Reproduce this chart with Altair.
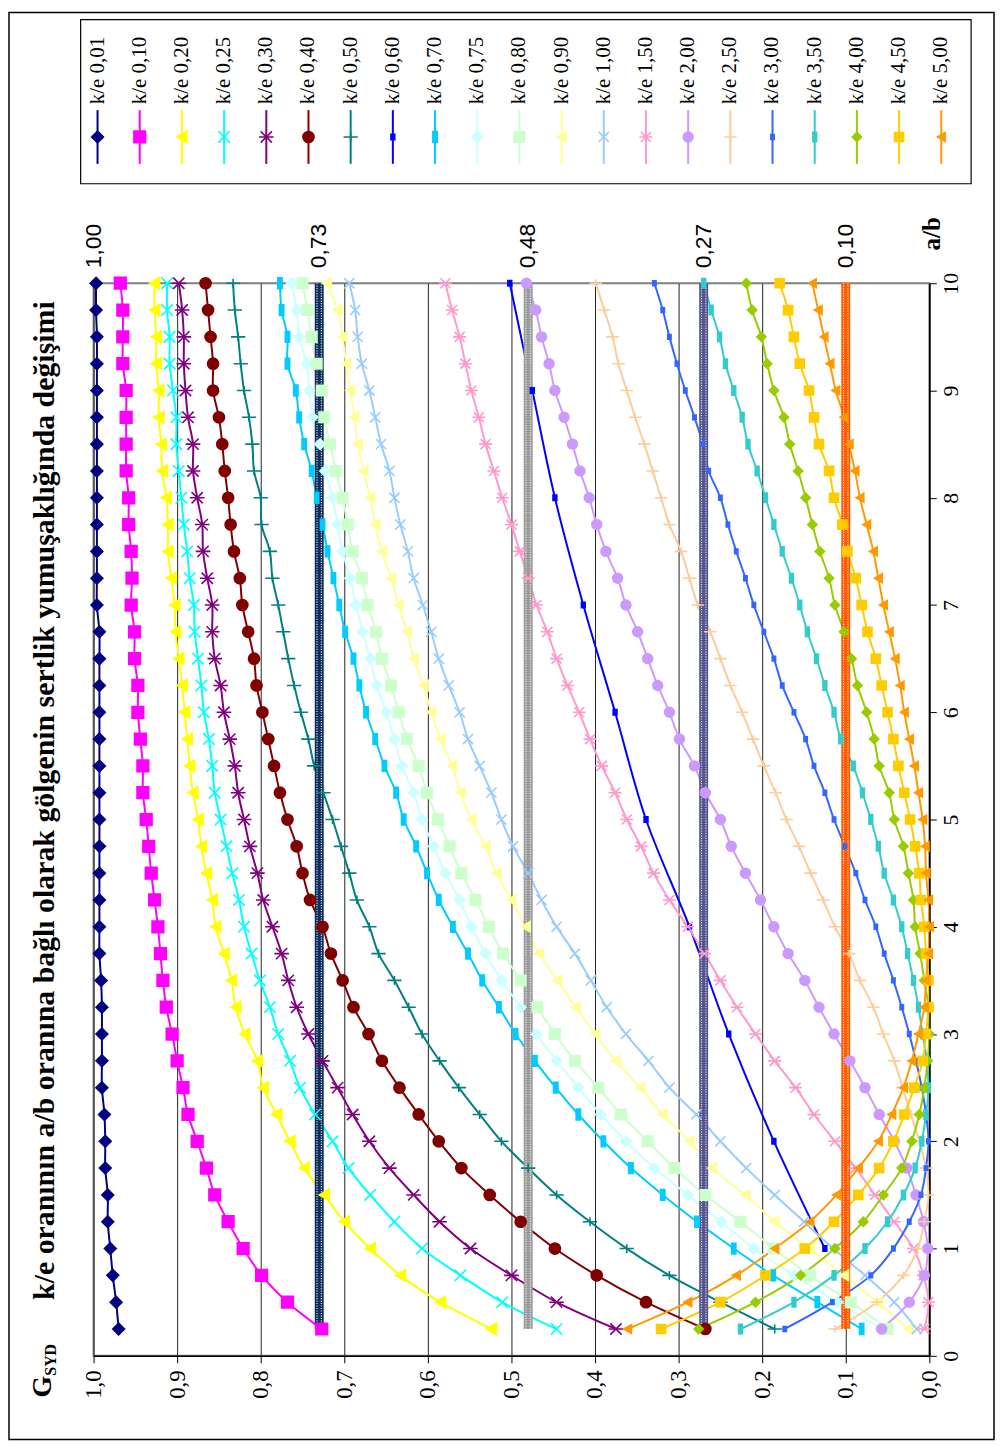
import altair as alt
import pandas as pd

# ---------------- data ----------------
AB = [0.25, 0.5, 0.75, 1.0, 1.25, 1.5, 1.75, 2.0, 2.25, 2.5,
      2.75, 3.0, 3.25, 3.5, 3.75, 4.0, 4.25, 4.5, 4.75, 5.0,
      5.25, 5.5, 5.75, 6.0, 6.25, 6.5, 6.75, 7.0, 7.25, 7.5,
      7.75, 8.0, 8.25, 8.5, 8.75, 9.0, 9.25, 9.5, 9.75, 10.0]
AB_INT = [1, 2, 3, 4, 5, 6, 7, 8, 9, 10]

S001 = [0.970, 0.973, 0.977, 0.980, 0.983, 0.983, 0.986, 0.986, 0.987, 0.990,
        0.990, 0.990, 0.990, 0.991, 0.993, 0.993, 0.993, 0.993, 0.993, 0.993,
        0.993, 0.993, 0.993, 0.993, 0.993, 0.993, 0.993, 0.996, 0.996, 0.996,
        0.996, 0.996, 0.996, 0.996, 0.996, 0.996, 0.996, 0.996, 0.997, 0.997]
S010 = [0.727, 0.768, 0.799, 0.821, 0.839, 0.855, 0.865, 0.876, 0.887, 0.893,
        0.900, 0.906, 0.913, 0.917, 0.920, 0.923, 0.927, 0.931, 0.934, 0.937,
        0.941, 0.941, 0.944, 0.947, 0.947, 0.951, 0.951, 0.955, 0.954, 0.955,
        0.958, 0.958, 0.961, 0.961, 0.961, 0.961, 0.965, 0.965, 0.965, 0.968]
S020 = [0.524, 0.585, 0.633, 0.669, 0.700, 0.724, 0.748, 0.765, 0.781, 0.797,
        0.804, 0.819, 0.830, 0.835, 0.844, 0.854, 0.858, 0.865, 0.871, 0.875,
        0.881, 0.885, 0.888, 0.891, 0.894, 0.898, 0.902, 0.903, 0.907, 0.911,
        0.911, 0.913, 0.918, 0.919, 0.922, 0.922, 0.925, 0.925, 0.927, 0.927]
S025 = [0.446, 0.511, 0.561, 0.607, 0.640, 0.669, 0.695, 0.714, 0.735, 0.753,
        0.765, 0.779, 0.789, 0.801, 0.811, 0.820, 0.826, 0.834, 0.841, 0.848,
        0.855, 0.858, 0.862, 0.868, 0.871, 0.875, 0.879, 0.880, 0.885, 0.888,
        0.892, 0.895, 0.898, 0.901, 0.901, 0.905, 0.909, 0.909, 0.912, 0.912]
S030 = [0.375, 0.446, 0.500, 0.549, 0.586, 0.617, 0.646, 0.670, 0.690, 0.708,
        0.726, 0.743, 0.757, 0.767, 0.775, 0.786, 0.797, 0.804, 0.813, 0.820,
        0.827, 0.831, 0.837, 0.844, 0.848, 0.855, 0.858, 0.858, 0.864, 0.869,
        0.870, 0.876, 0.881, 0.881, 0.887, 0.890, 0.892, 0.892, 0.894, 0.898]
S040 = [0.268, 0.339, 0.398, 0.448, 0.489, 0.526, 0.560, 0.587, 0.611, 0.634,
        0.655, 0.671, 0.689, 0.702, 0.716, 0.726, 0.741, 0.750, 0.757, 0.768,
        0.777, 0.784, 0.791, 0.798, 0.805, 0.808, 0.815, 0.822, 0.825, 0.832,
        0.836, 0.839, 0.843, 0.846, 0.850, 0.857, 0.857, 0.860, 0.863, 0.866]
S050 = [0.185, 0.250, 0.311, 0.362, 0.406, 0.446, 0.480, 0.512, 0.538, 0.563,
        0.586, 0.607, 0.623, 0.640, 0.659, 0.670, 0.685, 0.694, 0.704, 0.714,
        0.725, 0.736, 0.743, 0.752, 0.760, 0.767, 0.773, 0.779, 0.786, 0.789,
        0.799, 0.800, 0.808, 0.810, 0.814, 0.820, 0.824, 0.827, 0.831, 0.833]
S060 = [0.125, 0.186, 0.240, 0.287, 0.339, 0.376, 0.414, 0.448, 0.475, 0.502]
S070 = [0.081, 0.134, 0.187, 0.234, 0.278, 0.319, 0.357, 0.390, 0.420, 0.447,
        0.472, 0.495, 0.515, 0.535, 0.552, 0.570, 0.587, 0.601, 0.614, 0.629,
        0.638, 0.652, 0.663, 0.674, 0.682, 0.689, 0.699, 0.706, 0.713, 0.720,
        0.726, 0.733, 0.739, 0.748, 0.754, 0.758, 0.768, 0.768, 0.775, 0.777]
S075 = [0.057, 0.110, 0.162, 0.210, 0.249, 0.289, 0.329, 0.363, 0.393, 0.420,
        0.446, 0.470, 0.489, 0.512, 0.531, 0.548, 0.562, 0.579, 0.593, 0.607,
        0.617, 0.631, 0.640, 0.650, 0.661, 0.669, 0.678, 0.686, 0.693, 0.702,
        0.708, 0.714, 0.723, 0.729, 0.738, 0.742, 0.745, 0.754, 0.757, 0.763]
S080 = [0.050, 0.094, 0.143, 0.186, 0.226, 0.268, 0.305, 0.337, 0.369, 0.396,
        0.424, 0.448, 0.469, 0.489, 0.510, 0.527, 0.543, 0.560, 0.574, 0.588,
        0.601, 0.611, 0.625, 0.635, 0.644, 0.655, 0.662, 0.672, 0.679, 0.690,
        0.696, 0.702, 0.710, 0.717, 0.724, 0.727, 0.733, 0.739, 0.744, 0.750]
S090 = [0.025, 0.062, 0.102, 0.143, 0.185, 0.220, 0.260, 0.287, 0.319, 0.346,
        0.375, 0.400, 0.423, 0.445, 0.467, 0.483, 0.500, 0.518, 0.531, 0.548,
        0.561, 0.571, 0.585, 0.596, 0.605, 0.617, 0.625, 0.635, 0.644, 0.655,
        0.663, 0.669, 0.677, 0.684, 0.688, 0.693, 0.698, 0.702, 0.708, 0.721]
S100 = [0.015, 0.042, 0.077, 0.115, 0.150, 0.185, 0.219, 0.250, 0.279, 0.311,
        0.336, 0.363, 0.386, 0.405, 0.424, 0.446, 0.464, 0.480, 0.498, 0.512,
        0.524, 0.538, 0.552, 0.562, 0.575, 0.587, 0.596, 0.606, 0.617, 0.624,
        0.633, 0.640, 0.646, 0.656, 0.663, 0.670, 0.679, 0.684, 0.687, 0.694]
S150 = [0.006, 0.001, 0.007, 0.019, 0.042, 0.065, 0.088, 0.113, 0.138, 0.160,
        0.185, 0.208, 0.230, 0.250, 0.269, 0.289, 0.311, 0.330, 0.345, 0.362,
        0.376, 0.392, 0.406, 0.419, 0.433, 0.446, 0.457, 0.470, 0.480, 0.490,
        0.500, 0.511, 0.521, 0.531, 0.539, 0.548, 0.555, 0.562, 0.571, 0.579]
S200 = [0.057, 0.024, 0.006, 0.002, 0.007, 0.016, 0.027, 0.042, 0.060, 0.077,
        0.095, 0.114, 0.132, 0.149, 0.169, 0.186, 0.202, 0.220, 0.237, 0.250,
        0.268, 0.281, 0.299, 0.311, 0.325, 0.337, 0.349, 0.363, 0.373, 0.387,
        0.398, 0.407, 0.418, 0.427, 0.437, 0.448, 0.455, 0.464, 0.471, 0.482]
S250 = [0.113, 0.063, 0.031, 0.014, 0.006, 0.001, 0.004, 0.012, 0.022, 0.032,
        0.042, 0.055, 0.067, 0.083, 0.096, 0.113, 0.127, 0.142, 0.156, 0.171,
        0.184, 0.198, 0.211, 0.224, 0.238, 0.250, 0.262, 0.277, 0.287, 0.297,
        0.311, 0.321, 0.331, 0.341, 0.352, 0.362, 0.372, 0.379, 0.389, 0.399]
S300 = [0.173, 0.116, 0.070, 0.043, 0.024, 0.010, 0.004, 0.001, 0.004, 0.009,
        0.016, 0.024, 0.033, 0.043, 0.054, 0.064, 0.077, 0.088, 0.101, 0.114,
        0.125, 0.138, 0.148, 0.162, 0.176, 0.186, 0.198, 0.210, 0.220, 0.231,
        0.241, 0.250, 0.264, 0.271, 0.281, 0.292, 0.302, 0.311, 0.319, 0.329]
S350 = [0.226, 0.162, 0.114, 0.077, 0.050, 0.031, 0.017, 0.009, 0.004, 0.001,
        0.003, 0.008, 0.013, 0.019, 0.026, 0.033, 0.043, 0.054, 0.061, 0.070,
        0.080, 0.091, 0.106, 0.114, 0.125, 0.135, 0.146, 0.155, 0.165, 0.176,
        0.186, 0.196, 0.206, 0.217, 0.224, 0.234, 0.244, 0.251, 0.261, 0.270]
S400 = [0.276, 0.208, 0.154, 0.113, 0.079, 0.055, 0.033, 0.021, 0.012, 0.006,
        0.002, 0.000, 0.001, 0.006, 0.011, 0.017, 0.019, 0.025, 0.031, 0.042,
        0.048, 0.060, 0.066, 0.075, 0.086, 0.093, 0.102, 0.113, 0.120, 0.131,
        0.140, 0.148, 0.157, 0.167, 0.174, 0.186, 0.194, 0.201, 0.212, 0.219]
S450 = [0.321, 0.250, 0.196, 0.149, 0.114, 0.085, 0.060, 0.043, 0.030, 0.018,
        0.008, 0.004, 0.001, 0.001, 0.004, 0.006, 0.010, 0.012, 0.017, 0.023,
        0.030, 0.037, 0.043, 0.050, 0.057, 0.064, 0.074, 0.081, 0.088, 0.098,
        0.104, 0.114, 0.120, 0.132, 0.138, 0.144, 0.155, 0.162, 0.169, 0.179]
S500 = [0.361, 0.289, 0.231, 0.185, 0.143, 0.111, 0.085, 0.061, 0.045, 0.031,
        0.021, 0.013, 0.006, 0.004, 0.001, 0.000, 0.001, 0.004, 0.005, 0.008,
        0.013, 0.018, 0.024, 0.030, 0.035, 0.041, 0.048, 0.055, 0.061, 0.067,
        0.075, 0.083, 0.089, 0.096, 0.102, 0.112, 0.119, 0.126, 0.133, 0.140]

NAMES = ["k/e 0,01", "k/e 0,10", "k/e 0,20", "k/e 0,25", "k/e 0,30", "k/e 0,40",
         "k/e 0,50", "k/e 0,60", "k/e 0,70", "k/e 0,75", "k/e 0,80", "k/e 0,90",
         "k/e 1,00", "k/e 1,50", "k/e 2,00", "k/e 2,50", "k/e 3,00", "k/e 3,50",
         "k/e 4,00", "k/e 4,50", "k/e 5,00"]
VALUES = [S001, S010, S020, S025, S030, S040, S050, S060, S070, S075, S080,
          S090, S100, S150, S200, S250, S300, S350, S400, S450, S500]
XGRID = [AB] * 7 + [AB_INT] + [AB] * 13

BAND_LEVELS = [0.73, 0.48, 0.27, 0.10]
BAND_FROM = [0.25, 0.25, 0.25, 0.25]
BAND_TO = [10.0, 10.0, 10.0, 10.0]
LABEL_LEVELS = [1.0, 0.73, 0.48, 0.27, 0.10]
LABEL_TEXTS = ["1,00", "0,73", "0,48", "0,27", "0,10"]

G_TICKS = [0.0, 0.1, 0.2, 0.3, 0.4, 0.5, 0.6, 0.7, 0.8, 0.9, 1.0]
AB_TICKS = [0, 1, 2, 3, 4, 5, 6, 7, 8, 9, 10]

TITLE = "k/e oranının a/b oranına bağlı olarak gölgenin sertlik yumuşaklığında değişimi"

# ---------------- styles ----------------
COLORS = ["#000080", "#FF00FF", "#FFFF00", "#00FFFF", "#800080", "#800000",
          "#008080", "#0000FF", "#00CCFF", "#CCFFFF", "#CCFFCC", "#FFFF99",
          "#99CCFF", "#FF99CC", "#CC99FF", "#FFCC99", "#3366FF", "#33CCCC",
          "#99CC00", "#FFCC00", "#FF9900"]
XSHAPE = "M-1,-1L1,1M-1,1L1,-1"
STAR = "M-1,-1L1,1M-1,1L1,-1M-1.3,0L1.3,0"
PLUS = "M-1.3,0L1.3,0M0,-0.8L0,0.8"
DASH_S = "M-0.35,-0.5L0.35,-0.5L0.35,0.5L-0.35,0.5Z"
DASH_L = "M-0.4,-1L0.4,-1L0.4,1L-0.4,1Z"
CYCLE = ["diamond", "square", "triangle-left", XSHAPE, STAR, "circle", PLUS, DASH_S, DASH_L]
CSIZE = [140, 80, 100, 75, 85, 80, 85, 90, 100]
SHAPES = [CYCLE[i % 9] for i in range(21)]
SIZES = [CSIZE[i % 9] for i in range(21)]
BAND_COLORS = ["#0e2f5c", "#9a9a9a", "#54548f", "#ff5a00"]

SERIF = "Liberation Serif"
SANS = "Liberation Sans"

rows = []
for name, grid, vals in zip(NAMES, XGRID, VALUES):
    for a, v in zip(grid, vals):
        rows.append({"s": name, "ab": a, "g": v})
df = pd.DataFrame(rows)

xs = alt.Scale(domain=[0, 1], reverse=True, nice=False)
ys = alt.Scale(domain=[0, 10], nice=False)
cs = alt.Scale(domain=NAMES, range=COLORS)
shs = alt.Scale(domain=NAMES, range=SHAPES)
szs = alt.Scale(domain=NAMES, range=SIZES)

x_axis = alt.Axis(values=G_TICKS, title=None,
                  labelExpr="replace(format(datum.value, '.1f'), '.', ',')",
                  labelAngle=270, labelAlign="right", labelBaseline="middle",
                  labelFont=SERIF, labelFontSize=23, labelColor="black",
                  labelPadding=7, tickSize=7, tickColor="black", tickWidth=1,
                  domainColor="black", domainWidth=1.5,
                  grid=True, gridColor="#222222", gridWidth=1, gridOpacity=1)
y_axis = alt.Axis(orient="right", values=AB_TICKS, title=None,
                  labelAngle=270, labelAlign="center", labelBaseline="top",
                  labelFont=SERIF, labelFontSize=22, labelColor="black",
                  labelPadding=4, tickSize=7, tickColor="black", tickWidth=1,
                  domainColor="black", domainWidth=1.5, grid=False)

lines = alt.Chart(df).mark_line(strokeWidth=2, interpolate="catmull-rom", clip=True).encode(
    x=alt.X("g:Q", scale=xs, axis=x_axis),
    y=alt.Y("ab:Q", scale=ys, axis=y_axis),
    color=alt.Color("s:N", scale=cs, legend=None),
    detail="s:N",
    order=alt.Order("ab:Q"),
)

layers = [lines]

for lev, y0, y1, col in zip(BAND_LEVELS, BAND_FROM, BAND_TO, BAND_COLORS):
    bdf = pd.DataFrame({"lev": [lev], "ab": [y0], "ab2": [y1]})
    enc = dict(x=alt.X("lev:Q", scale=xs, axis=None),
               y=alt.Y("ab:Q", scale=ys, axis=y_axis),
               y2="ab2:Q")
    layers.append(alt.Chart(bdf).mark_rule(strokeWidth=9, color=col).encode(**enc))
    for off in (-2.2, 2.2):
        layers.append(alt.Chart(bdf).mark_rule(strokeWidth=1.2, color="white",
                                               strokeDash=[1.2, 1.3], xOffset=off,
                                               opacity=0.8).encode(**enc))

pts = alt.Chart(df).mark_point(filled=True, strokeWidth=1.6, opacity=1).encode(
    x=alt.X("g:Q", scale=xs, axis=None),
    y=alt.Y("ab:Q", scale=ys, axis=y_axis),
    color=alt.Color("s:N", scale=cs, legend=None),
    stroke=alt.Stroke("s:N", scale=cs, legend=None),
    shape=alt.Shape("s:N", scale=shs, legend=None),
    size=alt.Size("s:N", scale=szs, legend=None),
)
layers.append(pts)

# level labels above plot
ldf = pd.DataFrame({"lev": LABEL_LEVELS, "t": LABEL_TEXTS})
layers.append(alt.Chart(ldf).mark_text(angle=270, align="left", baseline="middle",
                                       font=SANS, fontSize=23, color="black").encode(
    x=alt.X("lev:Q", scale=xs, axis=None), y=alt.value(-15), text="t:N"))

one = pd.DataFrame({"d": [0]})
layers.append(alt.Chart(one).mark_text(text="a/b", angle=270, align="left", baseline="middle",
                                       font=SERIF, fontSize=25, fontWeight="bold", color="black").encode(
    x=alt.value(843), y=alt.value(-33)))
layers.append(alt.Chart(one).mark_text(text=TITLE, angle=270, align="center", baseline="middle",
                                       font=SERIF, fontSize=30, fontWeight="bold", color="black").encode(
    x=alt.value(-49), y=alt.value(520)))
layers.append(alt.Chart(one).mark_text(text="G", angle=270, align="left", baseline="middle",
                                       font=SERIF, fontSize=28, fontWeight="bold", color="black").encode(
    x=alt.value(-51), y=alt.value(1120)))
layers.append(alt.Chart(one).mark_text(text="SYD", angle=270, align="left", baseline="middle",
                                       font=SERIF, fontSize=16, fontWeight="bold", color="black").encode(
    x=alt.value(-43), y=alt.value(1098)))

# legend
legdf = pd.DataFrame({"s": NAMES, "li": list(range(len(NAMES)))})
lx = alt.X("li:Q", scale=alt.Scale(domain=[0, 20], range=[4, 852], nice=False), axis=None)
layers.append(alt.Chart(one).mark_rect(fill="white", stroke="black", strokeWidth=1.2).encode(
    x=alt.value(-13), x2=alt.value(882), y=alt.value(-265), y2=alt.value(-100)))
layers.append(alt.Chart(legdf).mark_text(angle=270, align="left", baseline="middle",
                                         font=SERIF, fontSize=21, color="black").encode(
    x=lx, y=alt.value(-180), text="s:N"))
layers.append(alt.Chart(legdf).mark_rule(strokeWidth=2).encode(
    x=lx, y=alt.value(-174), y2=alt.value(-120),
    color=alt.Color("s:N", scale=cs, legend=None)))
layers.append(alt.Chart(legdf).mark_point(filled=True, strokeWidth=1.6, opacity=1).encode(
    x=lx, y=alt.value(-147),
    color=alt.Color("s:N", scale=cs, legend=None),
    stroke=alt.Stroke("s:N", scale=cs, legend=None),
    shape=alt.Shape("s:N", scale=shs, legend=None),
    size=alt.Size("s:N", scale=szs, legend=None)))

# outer frame
layers.append(alt.Chart(one).mark_rect(fill="transparent", stroke="black", strokeWidth=1.5).encode(
    x=alt.value(-85), x2=alt.value(905), y=alt.value(-272), y2=alt.value(1162)))

chart = alt.layer(*layers).resolve_scale(x="independent").properties(
    width=840, height=1078, padding=0, background="white"
).configure_view(stroke="#808080", strokeWidth=2)

chart.save("out.html", embed_options={"renderer": "svg", "actions": False})
